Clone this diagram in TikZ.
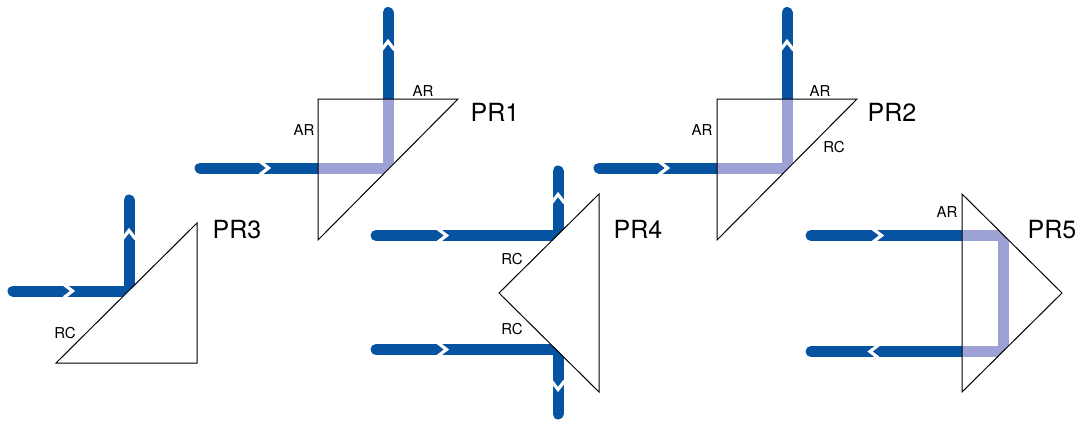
\documentclass[tikz,border=0pt]{standalone}
\usepackage{fontspec}
\setmainfont{TeX Gyre Heros}
\definecolor{beamdark}{HTML}{0553A1}
\definecolor{beamlight}{HTML}{9CA3D4}
\tikzset{
  x=1pt,y=-1pt,
  beam/.style={draw=beamdark,line width=11pt,line cap=round,line join=miter},
  inner/.style={draw=beamlight,line width=11pt,line cap=butt,line join=miter},
  prism/.style={draw=black,line width=1pt,line join=miter},
  prismfill/.style={prism,fill=white},
  bigl/.style={font=\fontsize{25}{25}\selectfont,inner sep=0pt},
  smalll/.style={font=\fontsize{15}{15}\selectfont,inner sep=0pt},
  chev/.pic={\draw[white,line width=3.2pt,line join=miter] (-7,-6.5)--(1.5,0)--(-7,6.5);}
}
\begin{document}
\begin{tikzpicture}
\useasboundingbox (0,0) rectangle (1076,421);
% ---- PR3
\coordinate (p3a) at (56,363); \coordinate (p3b) at (197,223); \coordinate (p3c) at (197,363);
\coordinate (b3s) at (13,291); \coordinate (b3c) at (129,291); \coordinate (b3e) at (129,200);
\draw[beam] (b3s) -- (b3c) -- (b3e);
\draw[prismfill] (p3a) -- (p3b) -- (p3c) -- cycle;
\pic[rotate=0] at (71,291) {chev};
\pic[rotate=90] at (129,232) {chev};
\node[bigl] (l3) at (237,229.5) {PR3};
\node[smalll] (l3r) at (65,333) {RC};
% ---- PR1
\coordinate (p1a) at (318,99); \coordinate (p1b) at (458,99); \coordinate (p1c) at (318,240);
\coordinate (b1s) at (200,168); \coordinate (b1i) at (318,168); \coordinate (b1c) at (388,168);
\coordinate (b1o) at (388,99); \coordinate (b1e) at (388,12.5);
\draw[beam] (b1s) -- (b1i);
\draw[beam] (b1e) -- (b1o);
\begin{scope}
\clip (p1a) -- (p1b) -- (p1c) -- cycle;
\draw[inner] (b1i) -- (b1c) -- (b1o);
\end{scope}
\draw[prism] (p1a) -- (p1b) -- (p1c) -- cycle;
\pic at (267,168) {chev};
\pic[rotate=90] at (388,43) {chev};
\node[bigl] (l1) at (495,112.5) {PR1};
\node[smalll] (l1a) at (423,91) {AR};
\node[smalll] (l1b) at (304,130) {AR};
% ---- PR2
\coordinate (p2a) at (717,99); \coordinate (p2b) at (857,99); \coordinate (p2c) at (717,240);
\coordinate (b2s) at (599,168); \coordinate (b2i) at (717,168); \coordinate (b2c) at (787,168);
\coordinate (b2o) at (787,99); \coordinate (b2e) at (787,12.5);
\draw[beam] (b2s) -- (b2i);
\draw[beam] (b2e) -- (b2o);
\begin{scope}
\clip (p2a) -- (p2b) -- (p2c) -- cycle;
\draw[inner] (b2i) -- (b2c) -- (b2o);
\end{scope}
\draw[prism] (p2a) -- (p2b) -- (p2c) -- cycle;
\pic at (666,168) {chev};
\pic[rotate=90] at (787,43) {chev};
\node[bigl] (l2) at (892,112.5) {PR2};
\node[smalll] (l2a) at (820,91) {AR};
\node[smalll] (l2b) at (702,130) {AR};
\node[smalll] (l2c) at (834,147) {RC};
% ---- PR4
\coordinate (p4a) at (599,194); \coordinate (p4b) at (599,392); \coordinate (p4c) at (499,293);
\coordinate (b4s) at (376,235.5); \coordinate (b4c) at (558,235.5); \coordinate (b4e) at (558,171);
\coordinate (b5s) at (376,349.5); \coordinate (b5c) at (558,349.5); \coordinate (b5e) at (558,414);
\draw[beam] (b4s) -- (b4c) -- (b4e);
\draw[beam] (b5s) -- (b5c) -- (b5e);
\draw[prismfill] (p4a) -- (p4b) -- (p4c) -- cycle;
\pic at (445,235.5) {chev};
\pic at (445,349.5) {chev};
\pic[rotate=90] at (558,196) {chev};
\pic[rotate=-90] at (558,388) {chev};
\node[bigl] (l4) at (638,229.5) {PR4};
\node[smalll] (l4a) at (512,259) {RC};
\node[smalll] (l4b) at (512,329) {RC};
% ---- PR5
\coordinate (p5a) at (962,194); \coordinate (p5b) at (962,392); \coordinate (p5c) at (1062,293);
\coordinate (b6s) at (811,235.5); \coordinate (b6i) at (962,235.5); \coordinate (b6c) at (1003,235.5);
\coordinate (b6d) at (1003,351.5); \coordinate (b6j) at (962,351.5); \coordinate (b6e) at (811,351.5);
\draw[beam] (b6s) -- (b6i);
\draw[beam] (b6e) -- (b6j);
\begin{scope}
\clip (p5a) -- (p5b) -- (p5c) -- cycle;
\draw[inner] (b6i) -- (b6c) -- (b6d) -- (b6j);
\end{scope}
\draw[prism] (p5a) -- (p5b) -- (p5c) -- cycle;
\pic at (880,235.5) {chev};
\pic[rotate=180] at (871.5,351.5) {chev};
\node[bigl] (l5) at (1052,229.5) {PR5};
\node[smalll] (l5a) at (947,212) {AR};
\end{tikzpicture}
\end{document}
